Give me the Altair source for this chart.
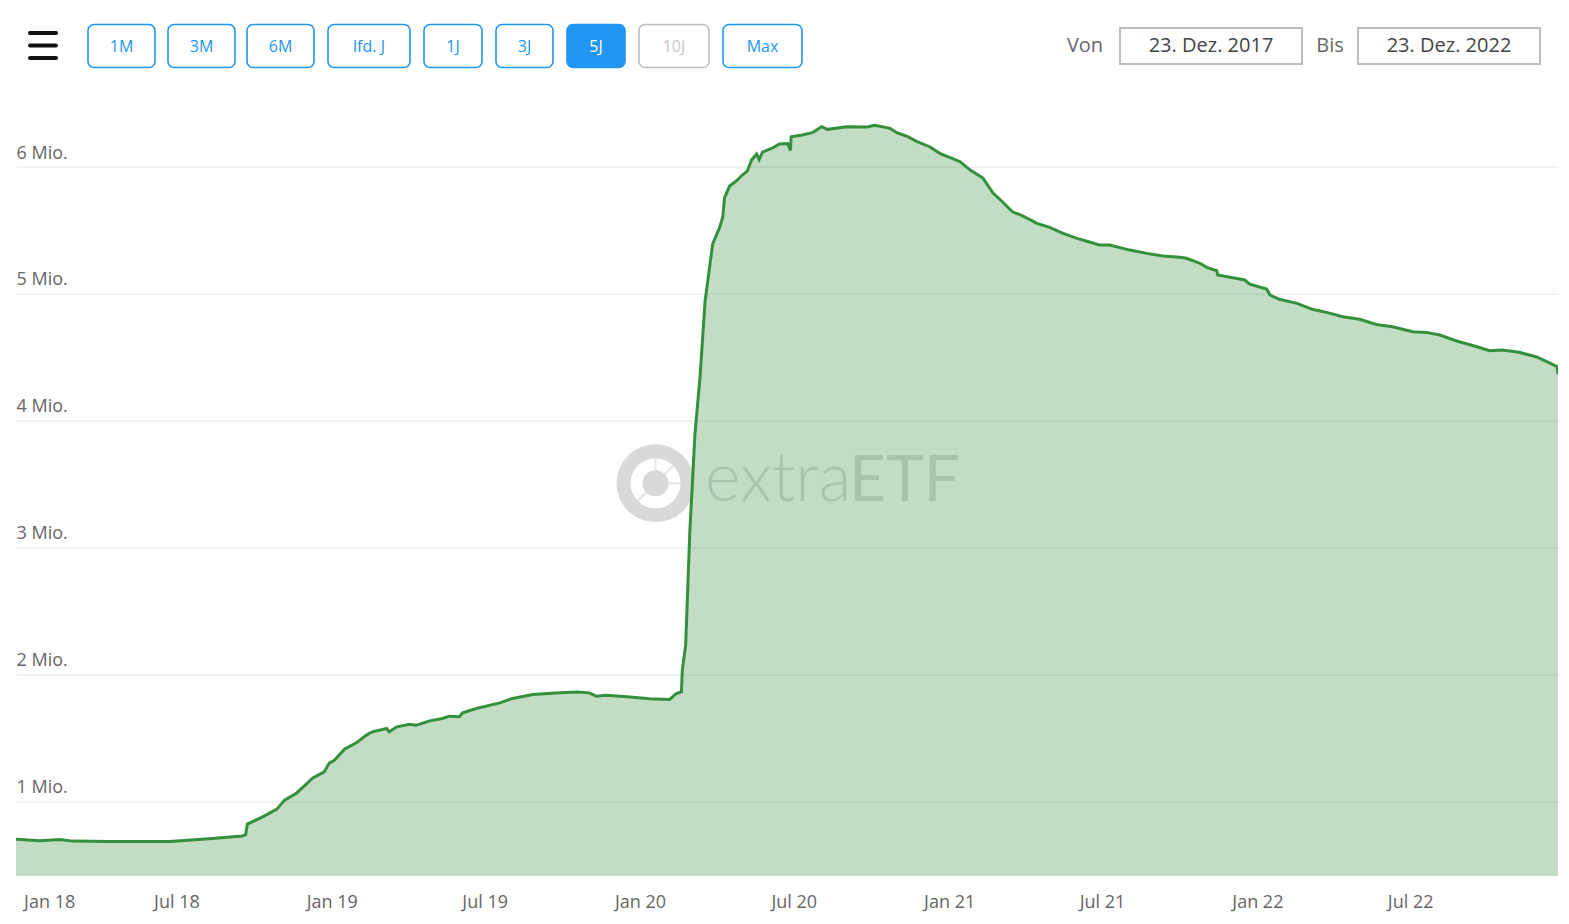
import altair as alt
import pandas as pd

# ---------------- data ----------------
dates = [
    "2017-12-23", "2018-01-20", "2018-02-13", "2018-02-28", "2018-04-13", "2018-06-23",
    "2018-08-09", "2018-09-17", "2018-09-21", "2018-09-23", "2018-10-11", "2018-10-28",
    "2018-11-06", "2018-11-20", "2018-12-03", "2018-12-09", "2018-12-23", "2018-12-29",
    "2019-01-04", "2019-01-16", "2019-01-30", "2019-02-11", "2019-02-18", "2019-03-07",
    "2019-03-10", "2019-03-19", "2019-04-03", "2019-04-11", "2019-04-27", "2019-05-12",
    "2019-05-20", "2019-06-01", "2019-06-05", "2019-06-21", "2019-07-19", "2019-08-03",
    "2019-08-27", "2019-09-28", "2019-10-18", "2019-11-02", "2019-11-10", "2019-11-22",
    "2019-12-20", "2020-01-12", "2020-02-05", "2020-02-13", "2020-02-19", "2020-02-20",
    "2020-02-24", "2020-02-29", "2020-03-06", "2020-03-12", "2020-03-18", "2020-03-24",
    "2020-03-27", "2020-04-04", "2020-04-08", "2020-04-10", "2020-04-16", "2020-04-24",
    "2020-05-01", "2020-05-07", "2020-05-12", "2020-05-18", "2020-05-21", "2020-05-25",
    "2020-06-06", "2020-06-14", "2020-06-24", "2020-06-27", "2020-06-28", "2020-07-11",
    "2020-07-23", "2020-08-03", "2020-08-10", "2020-09-02", "2020-09-26", "2020-10-05",
    "2020-10-23", "2020-10-31", "2020-11-13", "2020-11-24", "2020-12-09", "2020-12-21",
    "2021-01-14", "2021-01-26", "2021-02-10", "2021-02-22", "2021-03-05", "2021-03-17",
    "2021-03-29", "2021-04-15", "2021-04-30", "2021-05-16", "2021-06-05", "2021-06-28",
    "2021-07-10", "2021-08-03", "2021-08-23", "2021-09-11", "2021-10-01", "2021-10-09",
    "2021-10-25", "2021-11-02", "2021-11-14", "2021-11-15", "2021-12-03", "2021-12-17",
    "2021-12-23", "2022-01-12", "2022-01-16", "2022-01-27", "2022-02-17", "2022-03-07",
    "2022-03-24", "2022-04-12", "2022-05-02", "2022-05-22", "2022-06-10", "2022-07-04",
    "2022-07-20", "2022-08-05", "2022-08-25", "2022-09-18", "2022-10-03", "2022-10-18",
    "2022-11-07", "2022-11-27", "2022-12-16", "2022-12-22", "2022-12-23",
]
aum_mio = [
    0.700, 0.687, 0.698, 0.685, 0.682, 0.682,
    0.703, 0.726, 0.737, 0.819, 0.876, 0.937,
    1.008, 1.063, 1.142, 1.181, 1.231, 1.300,
    1.323, 1.410, 1.460, 1.521, 1.547, 1.573,
    1.547, 1.586, 1.607, 1.599, 1.633, 1.652,
    1.670, 1.665, 1.696, 1.731, 1.775, 1.810,
    1.841, 1.854, 1.860, 1.854, 1.828, 1.836,
    1.822, 1.807, 1.802, 1.849, 1.862, 2.033,
    2.230, 3.137, 3.894, 4.344, 4.943, 5.243,
    5.393, 5.519, 5.606, 5.756, 5.850, 5.890,
    5.937, 5.968, 6.055, 6.103, 6.058, 6.118,
    6.150, 6.181, 6.185, 6.130, 6.239, 6.252,
    6.271, 6.318, 6.297, 6.318, 6.315, 6.329,
    6.305, 6.271, 6.239, 6.200, 6.160, 6.108,
    6.042, 5.976, 5.913, 5.795, 5.726, 5.647,
    5.614, 5.556, 5.524, 5.477, 5.430, 5.385,
    5.385, 5.345, 5.319, 5.298, 5.288, 5.280,
    5.241, 5.209, 5.182, 5.148, 5.127, 5.109,
    5.077, 5.038, 4.991, 4.957, 4.925, 4.878,
    4.854, 4.819, 4.799, 4.759, 4.741, 4.701,
    4.696, 4.675, 4.628, 4.583, 4.551, 4.557,
    4.539, 4.504, 4.446, 4.425, 4.368,
]
y_ticks = [1, 2, 3, 4, 5, 6]
x_tick_months = [(2018, 1), (2018, 7), (2019, 1), (2019, 7), (2020, 1),
                 (2020, 7), (2021, 1), (2021, 7), (2022, 1), (2022, 7)]
range_buttons = ["1M", "3M", "6M", "lfd. J", "1J", "3J", "5J", "10J", "Max"]
active_button = "5J"
disabled_button = "10J"
date_from = "23. Dez. 2017"
date_to = "23. Dez. 2022"

# ---------------- styling / layout ----------------
FONT = "Open Sans"
GREEN = "#35903c"
BLUE = "#2196f3"
GREY_TXT = "#666666"
W, H = 1542, 772.4
OX, OY = 16, 103.6  # page position of the plot origin


def px(x):
    return x - OX


def py(y):
    return y - OY


df = pd.DataFrame({"date": dates, "aum": aum_mio})

x_enc = alt.X(
    "date:T",
    title=None,
    scale=alt.Scale(
        type="utc",
        domain=[alt.DateTime(year=2017, month=12, date=23, utc=True),
                alt.DateTime(year=2022, month=12, date=23, utc=True)],
    ),
    axis=alt.Axis(
        values=[alt.DateTime(year=y, month=m, date=1, utc=True) for y, m in x_tick_months],
        labelExpr="utcFormat(datum.value, '%b %y')",
        grid=False, ticks=False, domain=False,
        labelFont=FONT, labelFontSize=18, labelColor=GREY_TXT,
        labelPadding=17, labelFlush=15,
    ),
)
y_enc = alt.Y(
    "aum:Q",
    title=None,
    scale=alt.Scale(domain=[0.41, 6.5], nice=False, zero=False),
    axis=alt.Axis(
        values=y_ticks,
        labelExpr="datum.value + ' Mio.'",
        grid=True, gridColor="#e6e6e6", gridWidth=1,
        ticks=False, tickSize=0, domain=False,
        labelAlign="left", labelBaseline="alphabetic",
        labelPadding=0, labelOffset=-9,
        labelFont=FONT, labelFontSize=18, labelColor=GREY_TXT,
    ),
)

one = pd.DataFrame({"k": [0]})
layers = []

# watermark (under the area)
cx, cy = px(655.5), py(483.3)
layers.append(alt.Chart(one).mark_arc(radius=39, radius2=25, theta=0, theta2=6.2832,
                                      color="#d9d9d9").encode(x=alt.value(cx), y=alt.value(cy)))
layers.append(alt.Chart(one).mark_arc(radius=13, theta=0, theta2=6.2832,
                                      color="#d9d9d9").encode(x=alt.value(cx), y=alt.value(cy)))
for (dx1, dy1, dx2, dy2) in [(0, -13, 0, -26), (9, -9, 18, -18), (13, 0, 26, 0), (-9, 9, -18, 18)]:
    layers.append(alt.Chart(one).mark_rule(color="#e4e4e4", strokeWidth=2).encode(
        x=alt.value(cx + dx1), y=alt.value(cy + dy1), x2=alt.value(cx + dx2), y2=alt.value(cy + dy2)))
layers.append(alt.Chart(one).mark_text(text="extra", font="Lato", fontWeight=300, fontSize=68,
                                       color="#dcdcdc", align="left", baseline="alphabetic").encode(
    x=alt.value(px(705)), y=alt.value(py(501))))
layers.append(alt.Chart(one).mark_text(text="ETF", font="Lato", fontWeight=400, fontSize=64,
                                       color="#dcdcdc", align="right", baseline="alphabetic").encode(
    x=alt.value(px(960)), y=alt.value(py(501))))

# data series
area = alt.Chart(df).mark_area(color=GREEN, opacity=0.3, clip=True).encode(x=x_enc, y=y_enc)
line = alt.Chart(df).mark_line(color=GREEN, strokeWidth=3, clip=True).encode(x=x_enc, y=y_enc)
layers += [area, line]

# hamburger icon
for yy in [33, 45.5, 58]:
    layers.append(alt.Chart(one).mark_rule(color="#111111", strokeWidth=4, strokeCap="round").encode(
        x=alt.value(px(30)), x2=alt.value(px(56)), y=alt.value(py(yy))))

# range buttons
button_edges = [(88, 155), (168, 235), (247, 314), (328, 410), (424, 482),
                (496, 553), (567, 625), (639, 709), (723, 802)]
for lab, (x0, x1) in zip(range_buttons, button_edges):
    if lab == active_button:
        fill, stroke, tcol = BLUE, BLUE, "#ffffff"
    elif lab == disabled_button:
        fill, stroke, tcol = "#ffffff", "#bdbdbd", "#c8c8c8"
    else:
        fill, stroke, tcol = "#ffffff", BLUE, BLUE
    layers.append(alt.Chart(one).mark_rect(fill=fill, stroke=stroke, strokeWidth=1.6,
                                           cornerRadius=6).encode(
        x=alt.value(px(x0)), x2=alt.value(px(x1)), y=alt.value(py(24.5)), y2=alt.value(py(67.5))))
    layers.append(alt.Chart(one).mark_text(text=lab, font=FONT, fontSize=16, color=tcol,
                                           align="center", baseline="middle").encode(
        x=alt.value(px((x0 + x1) / 2)), y=alt.value(py(46.5))))

# date range inputs
layers.append(alt.Chart(one).mark_text(text="Von", font=FONT, fontSize=20, color=GREY_TXT,
                                       align="center", baseline="middle").encode(
    x=alt.value(px(1085)), y=alt.value(py(46))))
layers.append(alt.Chart(one).mark_text(text="Bis", font=FONT, fontSize=20, color=GREY_TXT,
                                       align="center", baseline="middle").encode(
    x=alt.value(px(1330)), y=alt.value(py(46))))
for (x0, x1), txt in [((1120, 1302), date_from), ((1358, 1540), date_to)]:
    layers.append(alt.Chart(one).mark_rect(fill="#ffffff", stroke="#bdbdbd", strokeWidth=2).encode(
        x=alt.value(px(x0)), x2=alt.value(px(x1)), y=alt.value(py(28)), y2=alt.value(py(64))))
    layers.append(alt.Chart(one).mark_text(text=txt, font=FONT, fontSize=20, color="#444444",
                                           align="center", baseline="middle").encode(
        x=alt.value(px((x0 + x1) / 2)), y=alt.value(py(46))))

chart = alt.layer(*layers).properties(
    width=W, height=H,
    autosize=alt.AutoSizeParams(type="none"),
    padding={"left": 8, "top": OY - 8, "right": 2, "bottom": 39},
    background="#ffffff",
).configure_view(stroke=None)

chart.save("out.html", embed_options={"renderer": "svg", "actions": False})
